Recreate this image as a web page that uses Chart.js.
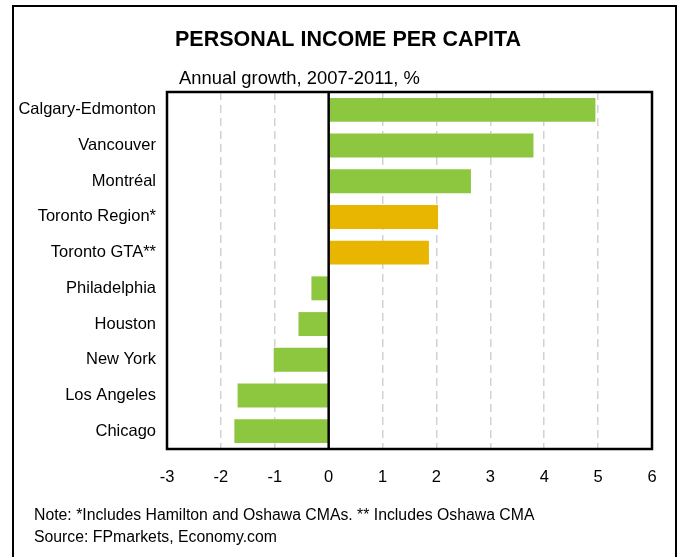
<!DOCTYPE html>
<html>
<head>
<meta charset="utf-8">
<title>Personal income per capita</title>
<script src="https://cdn.jsdelivr.net/npm/chart.js@4.4.0/dist/chart.umd.min.js"></script>
<style>
  html, body { margin: 0; padding: 0; background: #fff; }
  #wrap { position: relative; width: 679px; height: 557px; }
</style>
</head>
<body>
<div id="wrap"><canvas id="incomeChart"></canvas></div>
<script>
// metro areas, top to bottom
var regions = ['Calgary-Edmonton', 'Vancouver', 'Montréal', 'Toronto Region*', 'Toronto GTA**',
  'Philadelphia', 'Houston', 'New York', 'Los Angeles', 'Chicago'];
// annual growth 2007-2011, %
var growth = [4.95, 3.8, 2.64, 2.03, 1.86, -0.32, -0.56, -1.02, -1.69, -1.75];
// rows shown in the Toronto colour
var torontoRows = ['Toronto Region*', 'Toronto GTA**'];
// x axis range
var xMin = -3;
var xMax = 6;

var titleText = 'PERSONAL INCOME PER CAPITA';
var subtitleText = 'Annual growth, 2007-2011, %';
var noteLines = [
  'Note: *Includes Hamilton and Oshawa CMAs. ** Includes Oshawa CMA',
  'Source: FPmarkets, Economy.com'
];

var FONT = '"Liberation Sans", Arial, Helvetica, sans-serif';
var GREEN = '#8dc63f';
var GOLD = '#e8b500';

var barColors = regions.map(function (r) {
  return torontoRows.indexOf(r) >= 0 ? GOLD : GREEN;
});

// frame, headings, footnotes, zero line and plot border
var decor = {
  id: 'decor',
  beforeDraw: function (chart) {
    var ctx = chart.ctx;
    ctx.save();
    ctx.fillStyle = '#fff';
    ctx.fillRect(0, 0, chart.width, chart.height);

    ctx.strokeStyle = '#000';
    ctx.lineWidth = 2;
    ctx.strokeRect(13, 6, 663, 620);

    ctx.fillStyle = '#000';
    ctx.textBaseline = 'alphabetic';
    ctx.textAlign = 'center';
    ctx.font = 'bold 21.5px ' + FONT;
    ctx.fillText(titleText, 348, 46);

    ctx.textAlign = 'left';
    ctx.font = '18.4px ' + FONT;
    ctx.fillText(subtitleText, 179, 84);

    ctx.font = '15.8px ' + FONT;
    ctx.fillText(noteLines[0], 34, 520);
    ctx.fillText(noteLines[1], 34, 542);
    ctx.restore();
  },
  afterDatasetsDraw: function (chart) {
    var ctx = chart.ctx;
    var a = chart.chartArea;
    var x0 = chart.scales.x.getPixelForValue(0);
    ctx.save();
    ctx.strokeStyle = '#000';
    ctx.lineWidth = 2.5;
    ctx.beginPath();
    ctx.moveTo(x0, a.top);
    ctx.lineTo(x0, a.bottom);
    ctx.stroke();
    ctx.strokeRect(a.left, a.top, a.right - a.left, a.bottom - a.top);
    ctx.restore();
  }
};

new Chart(document.getElementById('incomeChart'), {
  type: 'bar',
  data: {
    labels: regions,
    datasets: [{
      data: growth,
      backgroundColor: barColors,
      borderWidth: 0,
      barPercentage: 0.67,
      categoryPercentage: 1.0
    }]
  },
  options: {
    indexAxis: 'y',
    responsive: true,
    maintainAspectRatio: false,
    animation: false,
    layout: { padding: { top: 92, right: 27, bottom: 0, left: 0 } },
    plugins: {
      legend: { display: false },
      tooltip: { enabled: false }
    },
    scales: {
      x: {
        min: xMin,
        max: xMax,
        ticks: {
          stepSize: 1,
          padding: 19,
          color: '#000',
          font: { family: FONT, size: 16.5 }
        },
        grid: {
          drawTicks: false,
          lineWidth: 1.5,
          color: function (c) {
            return c.tick && c.tick.value === 0 ? 'rgba(0,0,0,0)' : '#d2d2d2';
          },
          borderDash: [8, 5]
        },
        border: { display: false, dash: [8, 5] },
        afterFit: function (scale) { scale.height = 108; }
      },
      y: {
        ticks: {
          padding: 11,
          color: '#000',
          font: { family: FONT, size: 16.5 }
        },
        grid: { display: false, drawTicks: false },
        border: { display: false },
        afterFit: function (scale) { scale.width = 167; }
      }
    }
  },
  plugins: [decor]
});
</script>
</body>
</html>
